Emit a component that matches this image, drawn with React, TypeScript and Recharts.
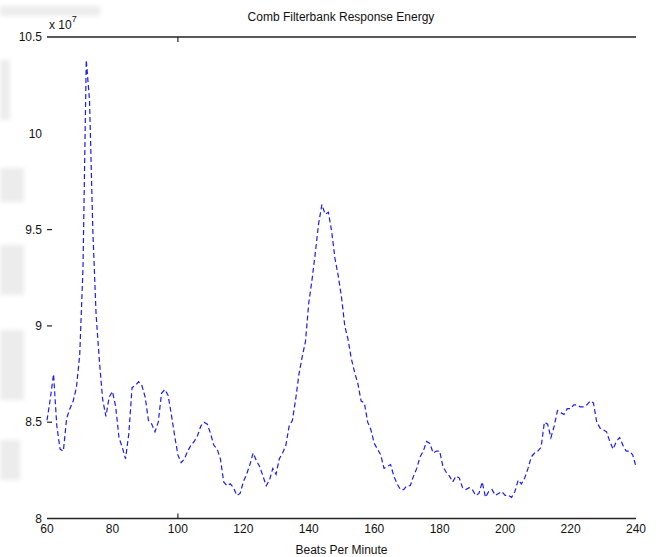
import React from 'react';
import { LineChart, Line, XAxis, YAxis } from 'recharts';

// Comb filterbank output energy (x 10^7) for each tempo candidate, 60..240 BPM
const START_BPM = 60;
const energy = [
  8.51, 8.62, 8.75, 8.48, 8.36, 8.35, 8.52, 8.57, 8.61, 8.68,
  8.85, 9.30, 10.38, 10.17, 9.50, 9.06, 8.82, 8.62, 8.53, 8.63,
  8.66, 8.58, 8.42, 8.37, 8.31, 8.44, 8.68, 8.69, 8.71, 8.69,
  8.63, 8.51, 8.49, 8.45, 8.50, 8.65, 8.67, 8.64, 8.54, 8.43,
  8.33, 8.29, 8.31, 8.35, 8.38, 8.40, 8.43, 8.48, 8.50, 8.49,
  8.44, 8.38, 8.36, 8.31, 8.19, 8.17, 8.18, 8.16, 8.12, 8.13,
  8.19, 8.23, 8.28, 8.34, 8.30, 8.27, 8.22, 8.17, 8.20, 8.26,
  8.23, 8.31, 8.34, 8.38, 8.48, 8.51, 8.62, 8.75, 8.84, 8.92,
  9.12, 9.24, 9.38, 9.53, 9.63, 9.58, 9.59, 9.49, 9.35, 9.26,
  9.15, 9.00, 8.93, 8.83, 8.76, 8.70, 8.61, 8.60, 8.50, 8.46,
  8.39, 8.36, 8.33, 8.26, 8.27, 8.28, 8.22, 8.18, 8.15, 8.15,
  8.17, 8.17, 8.22, 8.26, 8.32, 8.35, 8.40, 8.39, 8.34, 8.35,
  8.35, 8.27, 8.24, 8.22, 8.19, 8.22, 8.21, 8.16, 8.15, 8.16,
  8.15, 8.12, 8.13, 8.19, 8.11, 8.14, 8.15, 8.12, 8.13, 8.14,
  8.12, 8.12, 8.11, 8.14, 8.20, 8.18, 8.21, 8.26, 8.32, 8.34,
  8.35, 8.37, 8.50, 8.49, 8.42, 8.48, 8.56, 8.55, 8.54, 8.57,
  8.57, 8.59, 8.59, 8.58, 8.58, 8.59, 8.61, 8.60, 8.50, 8.47,
  8.46, 8.45, 8.40, 8.36, 8.40, 8.42, 8.38, 8.35, 8.35, 8.33,
  8.27,
];

const xTicks = [60, 80, 100, 120, 140, 160, 180, 200, 220, 240];
const yTicks = [8, 8.5, 9, 9.5, 10, 10.5];
// only these tick marks survived on the printed axes
const yMarks = [8.5, 9, 9.5];
const xMarks = [100];

const data = energy.map((e, i) => ({ bpm: START_BPM + i, energy: e }));

const FONT = '"Liberation Sans", Arial, Helvetica, sans-serif';
const AXIS = '#222';

// faint grey smudges along the left edge of the scanned page
const smudges = [
  { top: 6, height: 10, left: 0, width: 100 },
  { top: 60, height: 60, left: 0, width: 10 },
  { top: 168, height: 34, left: 0, width: 24 },
  { top: 245, height: 50, left: 0, width: 24 },
  { top: 330, height: 70, left: 0, width: 24 },
  { top: 440, height: 40, left: 0, width: 20 },
];

const LeftTick = (props: any) => {
  const { x, y, payload } = props;
  return (
    <g>
      <text x={x} y={y} dy="0.35em" textAnchor="end" fontSize={12} fontFamily={FONT} fill="#111">
        {payload.value}
      </text>
      {yMarks.includes(payload.value) && (
        <line x1={x + 5} x2={x + 10} y1={y} y2={y} stroke={AXIS} strokeWidth={1.2} />
      )}
    </g>
  );
};

const RightTick = (props: any) => {
  const { x, y, payload } = props;
  if (!yMarks.includes(payload.value)) return <g />;
  return <line x1={x - 5} x2={x} y1={y} y2={y} stroke={AXIS} strokeWidth={1.2} />;
};

const BottomTick = (props: any) => {
  const { x, y, payload } = props;
  return (
    <g>
      <text x={x} y={y} dy="0.71em" textAnchor="middle" fontSize={12} fontFamily={FONT} fill="#111">
        {payload.value}
      </text>
      {xMarks.includes(payload.value) && (
        <line x1={x} x2={x} y1={y - 6} y2={y - 11} stroke={AXIS} strokeWidth={1.2} />
      )}
    </g>
  );
};

const TopTick = (props: any) => {
  const { x, y, payload } = props;
  if (!xMarks.includes(payload.value)) return <g />;
  return <line x1={x} x2={x} y1={y} y2={y + 5} stroke={AXIS} strokeWidth={1.2} />;
};

export default function App() {
  return (
    <div style={{ position: 'absolute', left: 0, top: 0, width: 659, height: 557, background: '#fff', fontFamily: FONT }}>
      {smudges.map((s, i) => (
        <div key={i} style={{ position: 'absolute', ...s, background: '#ececec', filter: 'blur(2px)' }} />
      ))}
      <LineChart
        width={659}
        height={557}
        data={data}
        margin={{ top: 7, right: 0, bottom: 0, left: 0 }}
        style={{ position: 'absolute', left: 0, top: 0 }}
      >
        <XAxis
          dataKey="bpm"
          type="number"
          domain={[60, 240]}
          ticks={xTicks}
          height={38.5}
          tickSize={0}
          tickMargin={6}
          tick={BottomTick}
          axisLine={{ stroke: AXIS, strokeWidth: 1.3 }}
          tickLine={false}
          label={{ value: 'Beats Per Minute', position: 'insideBottom', offset: 3, fontSize: 12, fontFamily: FONT, fill: '#111' }}
        />
        <XAxis
          xAxisId="top"
          orientation="top"
          dataKey="bpm"
          type="number"
          domain={[60, 240]}
          ticks={xTicks}
          height={30}
          tickSize={0}
          tickMargin={0}
          tick={TopTick}
          axisLine={{ stroke: AXIS, strokeWidth: 1.3 }}
          tickLine={false}
        />
        <YAxis
          type="number"
          domain={[8, 10.5]}
          ticks={yTicks}
          width={47}
          tickSize={0}
          tickMargin={5}
          tick={LeftTick}
          axisLine={false}
          tickLine={false}
        />
        <YAxis
          yAxisId="r"
          orientation="right"
          type="number"
          domain={[8, 10.5]}
          ticks={yTicks}
          width={23}
          tickSize={0}
          tickMargin={0}
          tick={RightTick}
          axisLine={false}
          tickLine={false}
        />
        <Line
          type="linear"
          dataKey="energy"
          stroke="#1a1aff"
          strokeWidth={1.2}
          strokeDasharray="5 3"
          dot={false}
          isAnimationActive={false}
        />
      </LineChart>
      <div style={{ position: 'absolute', left: 0, width: 682, top: 10, textAlign: 'center', fontSize: 12, color: '#111' }}>
        Comb Filterbank Response Energy
      </div>
      <div style={{ position: 'absolute', left: 49, top: 16, fontSize: 12, color: '#111' }}>
        x 10<sup style={{ fontSize: 9, position: 'relative', top: -2 }}>7</sup>
      </div>
    </div>
  );
}
